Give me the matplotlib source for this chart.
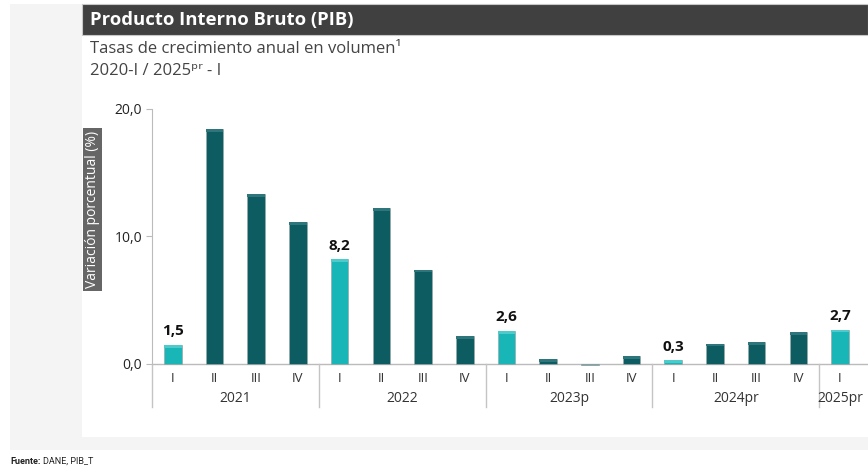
import matplotlib
matplotlib.use("Agg")
import matplotlib.pyplot as plt
from matplotlib.patches import Rectangle
import matplotlib.transforms as mtransforms

# ---------------- data ----------------
years = ["2021", "2022", "2023p", "2024pr", "2025pr"]
quarters = ["I", "II", "III", "IV"]
values_2021 = [1.5, 18.4, 13.3, 11.1]
values_2022 = [8.2, 12.2, 7.4, 2.2]
values_2023 = [2.6, 0.4, -0.1, 0.6]
values_2024 = [0.3, 1.6, 1.7, 2.5]
values_2025 = [2.7]
series = [values_2021, values_2022, values_2023, values_2024, values_2025]

highlight_color = "#19b6b8"
base_color = "#0d5c62"

plt.rcParams["font.family"] = ["Open Sans", "DejaVu Sans"]

W, H = 868, 467
fig = plt.figure(figsize=(W / 100, H / 100), dpi=100)
fig.patch.set_facecolor("white")

def px(x, y, w, h):
    return (x / W, 1 - (y + h) / H, w / W, h / H)

# backgrounds
bg = fig.add_axes([0, 0, 1, 1], zorder=-10)
bg.set_xlim(0, W); bg.set_ylim(H, 0); bg.axis("off")
bg.add_patch(Rectangle((10, 4), W - 10, 446, facecolor="#f4f4f4", edgecolor="none"))
bg.add_patch(Rectangle((82, 4), W - 82, 433, facecolor="white", edgecolor="none"))
bg.add_patch(Rectangle((82, 4), W - 82, 31, facecolor="#404040", edgecolor="#c8c8c8", lw=0.8))
bg.text(90, 20, "Producto Interno Bruto (PIB)", color="white", fontsize=13.3,
        fontweight="bold", va="center", ha="left")
bg.text(90, 49, "Tasas de crecimiento anual en volumen\u00b9", color="#444444",
        fontsize=12, va="center", ha="left")
bg.text(90, 71, "2020-I / 2025\u1d56\u02b3 - I", color="#444444",
        fontsize=12, va="center", ha="left")
# y label box
bg.add_patch(Rectangle((83, 128), 19, 163, facecolor="#666666", edgecolor="none"))
bg.text(92.5, 209.5, "Variación porcentual (%)", color="white", fontsize=10,
        rotation=90, va="center", ha="center")
bg.text(10, 461, "Fuente:", fontsize=6.5, fontweight="bold", color="#222222",
        va="center", ha="left", family=["Roboto", "DejaVu Sans"])
bg.text(43, 461, "DANE, PIB_T", fontsize=6.5, color="#222222",
        va="center", ha="left", family=["Roboto", "DejaVu Sans"])

# main axes: y=20 at px 109, y=0 at px 364
slot = 41.7
x0 = 152
y_top_px, y0_px = 109, 364
ppu = (y0_px - y_top_px) / 20.0
ymin = -0.6
ax_bottom_px = y0_px - ymin * ppu
ax = fig.add_axes(px(x0, y_top_px, W - x0, ax_bottom_px - y_top_px))
ax.set_ylim(ymin, 20)
ax.set_xlim(-0.5, -0.5 + (W - x0) / slot)
ax.patch.set_alpha(0)

labels_all, vals_all, colors_all = [], [], []
for yi, s in enumerate(series):
    for qi, v in enumerate(s):
        labels_all.append(quarters[qi])
        vals_all.append(v)
        colors_all.append(highlight_color if qi == 0 else base_color)
xs = list(range(len(vals_all)))

bars = ax.bar(xs, vals_all, width=0.42, color=colors_all, edgecolor="#9aa9aa",
              linewidth=0.5, zorder=3)
# top cap highlight for a bevelled look
for b, c in zip(bars, colors_all):
    h = b.get_height()
    if h > 0.25:
        cap = "#4fcacb" if c == highlight_color else "#2f767c"
        ax.add_patch(Rectangle((b.get_x(), h - 0.22), b.get_width(), 0.22,
                               facecolor=cap, edgecolor="none", zorder=4))

for x, v, lab in zip(xs, vals_all, labels_all):
    if lab == "I":
        ax.text(x, v + 0.5, f"{v:.1f}".replace(".", ","), ha="center", va="bottom",
                fontsize=11, fontweight="bold", color="#111111")

for s in ["top", "right", "bottom"]:
    ax.spines[s].set_visible(False)
ax.spines["left"].set_color("#bbbbbb")
ax.spines["left"].set_bounds(0, 20)
ax.axhline(0, color="#bbbbbb", lw=1, zorder=2)
ax.set_yticks([0, 10, 20])
ax.set_yticklabels(["0,0", "10,0", "20,0"], fontsize=10, color="#222222")
ax.tick_params(axis="y", length=4, color="#bbbbbb", pad=3)
ax.set_xticks([])

trans = mtransforms.blended_transform_factory(ax.transData, fig.transFigure)
for x, lab in zip(xs, labels_all):
    ax.text(x, 1 - 379 / H, lab, transform=trans, ha="center", va="center",
            fontsize=9.5, color="#333333")

start = 0
sep_top = 1 - y0_px / H
sep_bot = 1 - 407 / H
for yi, s in enumerate(series):
    xl = start - 0.5
    ax.plot([xl, xl], [sep_top, sep_bot], transform=trans, color="#c4c4c4",
            lw=1, clip_on=False)
    center = start + (len(s) - 1) / 2
    ax.text(center, 1 - 399 / H, years[yi], transform=trans, ha="center",
            va="center", fontsize=10, color="#333333")
    start += len(s)

fig.savefig("out.png", dpi=100)
